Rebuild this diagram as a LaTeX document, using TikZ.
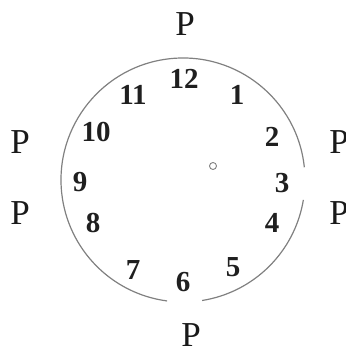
\documentclass[tikz,border=0pt]{standalone}
\usepackage{fontspec}
\setmainfont{Liberation Serif}
\usetikzlibrary{calc}
\begin{document}
\begin{tikzpicture}[x=1pt,y=1pt,
  num/.style={inner sep=0pt, text=black!88, font=\fontsize{29}{29}\selectfont\bfseries},
  plabel/.style={inner sep=0pt, text=black!90, font=\fontsize{35}{35}\selectfont},
  rim/.style={draw=black!50, line width=1.2pt}]
\useasboundingbox (0,0) rectangle (345,347);
\coordinate (c) at (183,167);
% clock rim with two gaps
\draw[rim] ($(c)+(6:122)$) arc[start angle=6, end angle=262.5, radius=122];
\draw[rim] ($(c)+(279:122)$) arc[start angle=279, end angle=350.6, radius=122];
% centre pivot
\node[draw=black!50, line width=0.9pt, circle, minimum size=7pt, inner sep=0pt] (pivot) at (213,181) {};
% numbers
\node[num] (n12) at (184,268) {12};
\node[num] (n1) at (237,252) {1};
\node[num] (n2) at (272,210) {2};
\node[num] (n3) at (282,164) {3};
\node[num] (n4) at (272,124) {4};
\node[num] (n5) at (233,80) {5};
\node[num] (n6) at (183,65) {6};
\node[num] (n7) at (133,77) {7};
\node[num] (n8) at (93,124) {8};
\node[num] (n9) at (80,165) {9};
\node[num] (n10) at (96,215) {10};
\node[num] (n11) at (133,252) {11};
% P labels
\node[plabel] (ptop) at (185,323) {P};
\node[plabel] (plu) at (20,205) {P};
\node[plabel] (pll) at (20,134) {P};
\node[plabel] (pru) at (339,205) {P};
\node[plabel] (prl) at (339,134) {P};
\node[plabel] (pbot) at (191,12) {P};
\end{tikzpicture}
\end{document}
